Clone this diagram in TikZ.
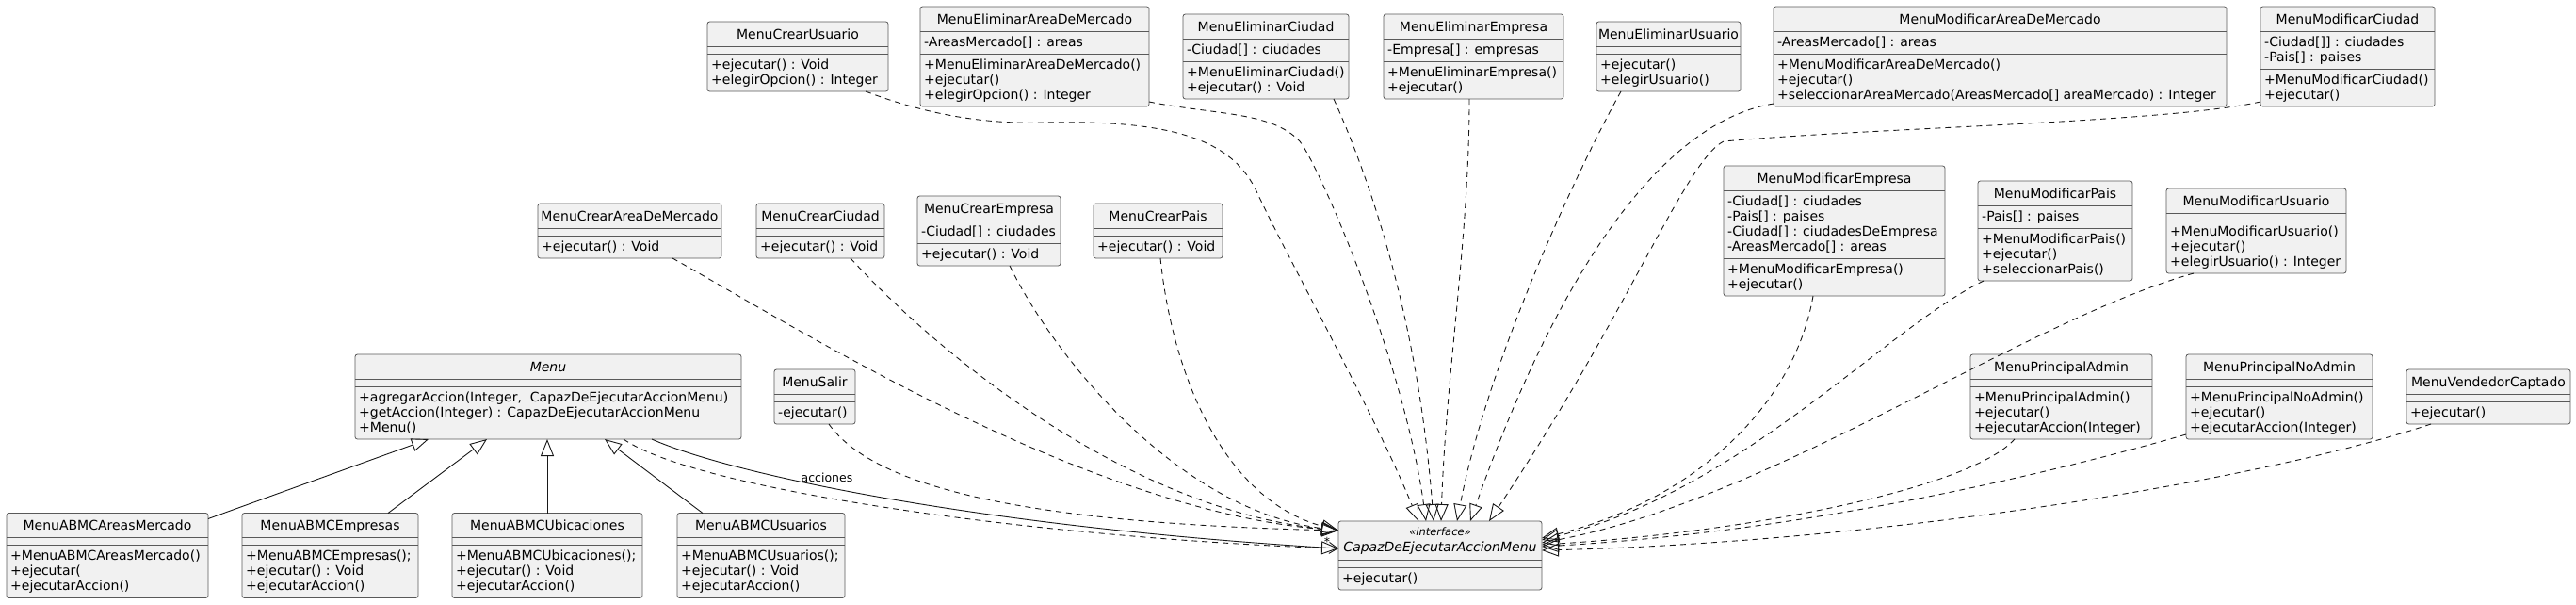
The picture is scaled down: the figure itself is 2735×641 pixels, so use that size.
\documentclass[tikz,border=0pt]{standalone}
\usepackage{fontspec}
\setmainfont{DejaVu Sans}
\usetikzlibrary{arrows.meta}
\definecolor{boxfill}{HTML}{F1F1F1}
\definecolor{edgecol}{HTML}{181818}
\tikzset{
 classbox/.style={draw=black!65, fill=boxfill, line width=0.8pt, rounded corners=2.5pt, inner sep=0pt, outer sep=0pt},
 sepline/.style={draw=black!65, line width=0.8pt},
 titletext/.style={inner sep=0pt, font=\fontsize{14}{16}\selectfont},
 membertext/.style={inner sep=0pt, font=\fontsize{14}{16}\selectfont},
 realize/.style={draw=edgecol, line width=0.9pt, dash pattern=on 6pt off 5pt, -{Triangle[open, length=18pt, width=14pt]}},
 generalize/.style={draw=edgecol, line width=0.9pt, -{Triangle[open, length=18pt, width=14pt]}},
 assoc/.style={draw=edgecol, line width=0.9pt, -{Straight Barb[length=9pt, width=12pt]}},
 edgelabel/.style={inner sep=0pt, font=\fontsize{12.5}{14}\selectfont},
}
% #1 id, #2 left x, #3 center y, #4 width, #5 nb attrs, #6 nb methods, #7 title, #8 attrs, #9 methods
\newcommand{\umlclass}[9]{%
 \pgfmathsetmacro{\clsA}{8+16*#5}%
 \pgfmathsetmacro{\clsM}{8+16*#6}%
 \pgfmathsetmacro{\clsH}{26+\clsA+\clsM}%
 \pgfmathsetmacro{\clsT}{#3-\clsH/2}%
 \pgfmathsetmacro{\clsS}{\clsT+26}%
 \pgfmathsetmacro{\clsR}{\clsS+\clsA}%
 \node[classbox, minimum width=#4pt, minimum height=\clsH pt, anchor=north west] (#1) at (#2,\clsT) {};
 \node[titletext, anchor=base] (#1-name) at (#2+#4/2, \clsT+18) {#7};
 \draw[sepline] (#2,\clsS) -- (#2+#4,\clsS);
 \draw[sepline] (#2,\clsR) -- (#2+#4,\clsR);
 \ifnum#5>0\relax
  \foreach \mline [count=\i from 0] in {#8} {\node[membertext, anchor=base west] (#1-a\i) at (#2+4, \clsS+16+16*\i) {\mline};}
 \fi
 \foreach \mline [count=\i from 0] in {#9} {\node[membertext, anchor=base west] (#1-m\i) at (#2+4, \clsR+16+16*\i) {\mline};}
}
\begin{document}
\begin{tikzpicture}[x=1pt, y=-1pt]
\fill[white] (0,0) rectangle (2735,641);
\useasboundingbox (0,0) rectangle (2735,641);

% row 1
\umlclass{cu}{751}{60}{192}{0}{2}{MenuCrearUsuario}{}{{+ejecutar() : Void},{+elegirOpcion() : Integer}}
\umlclass{ea}{977}{60}{243}{1}{3}{MenuEliminarAreaDeMercado}{{-AreasMercado[] : areas}}{{+MenuEliminarAreaDeMercado()},{+ejecutar()},{+elegirOpcion() : Integer}}
\umlclass{ec}{1256}{60}{176}{1}{2}{MenuEliminarCiudad}{{-Ciudad[] : ciudades}}{{+MenuEliminarCiudad()},{+ejecutar() : Void}}
\umlclass{ee}{1469}{60}{191}{1}{2}{MenuEliminarEmpresa}{{-Empresa[] : empresas}}{{+MenuEliminarEmpresa()},{+ejecutar()}}
\umlclass{eu}{1695}{60}{153}{0}{2}{MenuEliminarUsuario}{}{{+ejecutar()},{+elegirUsuario()}}
\umlclass{ma}{1883}{60}{481}{1}{3}{MenuModificarAreaDeMercado}{{-AreasMercado[] : areas}}{{+MenuModificarAreaDeMercado()},{+ejecutar()},{+seleccionarAreaMercado(AreasMercado[] areaMercado) : Integer}}
\umlclass{mc}{2400}{60}{185}{2}{2}{MenuModificarCiudad}{{-Ciudad[]] : ciudades},{-Pais[] : paises}}{{+MenuModificarCiudad()},{+ejecutar()}}

% row 2
\umlclass{cam}{571}{245}{195}{0}{1}{MenuCrearAreaDeMercado}{}{{+ejecutar() : Void}}
\umlclass{cc}{803}{245}{136}{0}{1}{MenuCrearCiudad}{}{{+ejecutar() : Void}}
\umlclass{ce}{974}{245}{152}{1}{1}{MenuCrearEmpresa}{{-Ciudad[] : ciudades}}{{+ejecutar() : Void}}
\umlclass{cp}{1161}{245}{137}{0}{1}{MenuCrearPais}{}{{+ejecutar() : Void}}
\umlclass{me}{1830}{245}{235}{4}{2}{MenuModificarEmpresa}{{-Ciudad[] : ciudades},{-Pais[] : paises},{-Ciudad[] : ciudadesDeEmpresa},{-AreasMercado[] : areas}}{{+MenuModificarEmpresa()},{+ejecutar()}}
\umlclass{mp}{2100}{245}{164}{1}{3}{MenuModificarPais}{{-Pais[] : paises}}{{+MenuModificarPais()},{+ejecutar()},{+seleccionarPais()}}
\umlclass{mu}{2300}{245}{191}{0}{3}{MenuModificarUsuario}{}{{+MenuModificarUsuario()},{+ejecutar()},{+elegirUsuario() : Integer}}

% row 3
\umlclass{menu}{377}{421}{410}{0}{3}{\itshape Menu}{}{{+agregarAccion(Integer,\ \ CapazDeEjecutarAccionMenu)},{+getAccion(Integer) : CapazDeEjecutarAccionMenu},{+Menu()}}
\umlclass{salir}{822}{421}{86}{0}{1}{MenuSalir}{}{{-ejecutar()}}
\umlclass{pa}{2092}{421}{193}{0}{3}{MenuPrincipalAdmin}{}{{+MenuPrincipalAdmin()},{+ejecutar()},{+ejecutarAccion(Integer)}}
\umlclass{pna}{2321}{421}{198}{0}{3}{MenuPrincipalNoAdmin}{}{{+MenuPrincipalNoAdmin()},{+ejecutar()},{+ejecutarAccion(Integer)}}
\umlclass{vc}{2555}{421}{174}{0}{1}{MenuVendedorCaptado}{}{{+ejecutar()}}

% row 4
\umlclass{abam}{7}{589.5}{214}{0}{3}{MenuABMCAreasMercado}{}{{+MenuABMCAreasMercado()},{+ejecutar(},{+ejecutarAccion()}}
\umlclass{abe}{257}{589.5}{187}{0}{3}{MenuABMCEmpresas}{}{{+MenuABMCEmpresas();},{+ejecutar() : Void},{+ejecutarAccion()}}
\umlclass{abub}{480}{589.5}{202}{0}{3}{MenuABMCUbicaciones}{}{{+MenuABMCUbicaciones();},{+ejecutar() : Void},{+ejecutarAccion()}}
\umlclass{abus}{719}{589.5}{178}{0}{3}{MenuABMCUsuarios}{}{{+MenuABMCUsuarios();},{+ejecutar() : Void},{+ejecutarAccion()}}

% interface
\node[classbox, minimum width=216pt, minimum height=73pt, anchor=north west] (cap) at (1421,553) {};
\node[inner sep=0pt, font=\fontsize{11.5}{13}\selectfont\itshape, anchor=base] (cap-st) at (1529,568) {«interface»};
\node[titletext, font=\fontsize{14}{16}\selectfont\itshape, anchor=base] (cap-name) at (1529,585) {CapazDeEjecutarAccionMenu};
\draw[sepline] (1421,594) -- (1637,594);
\draw[sepline] (1421,602) -- (1637,602);
\node[membertext, anchor=base west] (cap-m0) at (1425,618) {+ejecutar()};

% generalizations
\draw[generalize] ([yshift=-6pt]abam.north east) -- ([xshift=78pt]menu.south west);
\draw[generalize] ([xshift=155pt]abe.north west) -- ([xshift=140pt]menu.south west);
\draw[generalize] ([xshift=101pt]abub.north west) -- ([xshift=204pt]menu.south west);
\draw[generalize] ([xshift=27pt]abus.north west) -- ([xshift=265pt]menu.south west);

% Menu to interface
\draw[realize] ([xshift=285pt]menu.south west) .. controls (740,520) and (1100,570) .. ([yshift=-29pt]cap.north west);
\draw[assoc] ([xshift=315pt]menu.south west) .. controls (780,505) and (1050,560) .. ([yshift=-29pt]cap.north west);
\node[edgelabel] (lblacc) at (878,507) {acciones};
\node[edgelabel] (lblmult) at (1409,575) {*};

% left upper
\draw[realize] ([xshift=143pt]cam.south west) .. controls (850,350) and (1150,540) .. ([yshift=-10pt]cap.north west);
\draw[realize] ([xshift=100pt]cc.south west) .. controls (1000,380) and (1200,540) .. ([yshift=-10pt]cap.north west);
\draw[realize] ([xshift=98pt]ce.south west) .. controls (1120,380) and (1250,540) .. ([yshift=-10pt]cap.north west);
\draw[realize] ([xshift=71pt]cp.south west) .. controls (1245,400) and (1300,530) .. ([yshift=-10pt]cap.north west);
\draw[realize] ([xshift=58pt]salir.south west) .. controls (930,520) and (1100,555) .. ([yshift=-10pt]cap.north west);

% top
\draw[realize] ([xshift=168pt]cu.south west) .. controls (980,120) and (1040,132) .. (1110,130)
  .. controls (1250,127) and (1310,150) .. (1335,205)
  .. controls (1365,270) and (1460,440) .. ([xshift=85pt]cap.north west);
\draw[realize] ([yshift=5pt]ea.south east) .. controls (1290,122) and (1350,118) .. (1380,150)
  .. controls (1400,175) and (1490,380) .. ([xshift=93pt]cap.north west);
\draw[realize] ([xshift=160pt]ec.south west) .. controls (1450,180) and (1505,330) .. ([xshift=101pt]cap.north west);
\draw[realize] ([xshift=91pt]ee.south west) .. controls (1560,250) and (1535,400) .. ([xshift=109pt]cap.north west);
\draw[realize] ([xshift=26pt]eu.south west) .. controls (1680,170) and (1580,380) .. ([xshift=126pt]cap.north west);
\draw[realize] ([yshift=3pt]ma.south west) .. controls (1760,130) and (1650,300) .. ([xshift=140pt]cap.north west);
\draw[realize] ([yshift=5pt]mc.south west) .. controls (2300,130) and (2000,135) .. (1830,150) .. controls (1790,170) and (1730,330) .. ([xshift=160pt]cap.north west);

% right
\draw[realize] ([xshift=95pt]me.south west) .. controls (1905,430) and (1800,530) .. ([yshift=-18pt]cap.north east);
\draw[realize] ([xshift=6pt]mp.south west) .. controls (2000,350) and (1850,520) .. ([yshift=-20pt]cap.north east);
\draw[realize] ([xshift=29pt]mu.south west) .. controls (2150,340) and (1880,530) .. ([yshift=-23pt]cap.north east);
\draw[realize] ([xshift=47pt]pa.south west) .. controls (2090,520) and (1850,565) .. ([yshift=-25pt]cap.north east);
\draw[realize] ([yshift=5pt]pna.south west) .. controls (2150,510) and (1900,565) .. ([yshift=-27pt]cap.north east);
\draw[realize] ([xshift=26pt]vc.south west) .. controls (2400,510) and (2000,575) .. ([yshift=-31pt]cap.north east);
\end{tikzpicture}
\end{document}
